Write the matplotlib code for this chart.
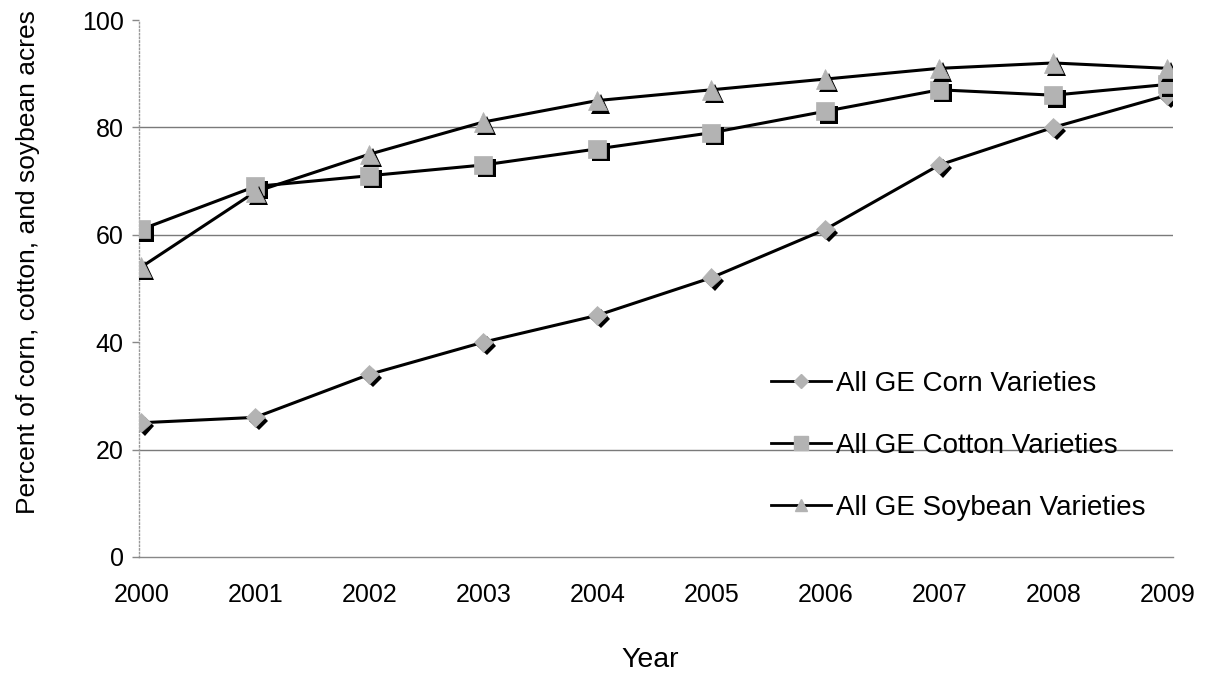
import matplotlib
matplotlib.use('Agg')
import matplotlib.pyplot as plt
import matplotlib.patheffects as pe
from matplotlib.lines import Line2D

plt.rcParams['font.family'] = ['Liberation Sans', 'DejaVu Sans']

# 数据
years = [2000, 2001, 2002, 2003, 2004, 2005, 2006, 2007, 2008, 2009]
corn = [25, 26, 34, 40, 45, 52, 61, 73, 80, 86]
cotton = [61, 69, 71, 73, 76, 79, 83, 87, 86, 88]
soybean = [54, 68, 75, 81, 85, 87, 89, 91, 92, 91]
series_labels = ['All GE Corn Varieties', 'All GE Cotton Varieties',
                 'All GE Soybean Varieties']
y_ticks = [0, 20, 40, 60, 80, 100]

W, H = 1208, 677
fig = plt.figure(figsize=(W / 100, H / 100), dpi=100)
ax = fig.add_axes([139 / W, 1 - 557 / H, (1173 - 139) / W, (557 - 20) / H])

gray = '#b3b3b3'
shadow = [pe.SimplePatchShadow(offset=(2.5, -2.5), shadow_rgbFace='black', alpha=1.0),
          pe.Normal()]

# 网格线（扫描图中只见 20/60/80）
for level in (20, 60, 80):
    ax.axhline(level, color='#7a7a7a', lw=1.0, zorder=1)

styles = [(corn, 'D', 9.5, 7), (cotton, 's', 13, 10), (soybean, '^', 14, 9)]
handles = []
for (vals, mk, ms, ms_leg), label in zip(styles, series_labels):
    ax.plot(years, vals, color='black', lw=2.2, zorder=3)
    ax.plot(years, vals, ls='none', marker=mk, ms=ms, mfc=gray, mec=gray,
            mew=0.5, zorder=4, path_effects=shadow)
    handles.append(Line2D([], [], color='black', lw=2.0, marker=mk, ms=ms_leg,
                          mfc=gray, mec=gray, label=label))

ax.set_xlim(1999.98, 2009.05)
ax.set_ylim(0, 100)
ax.set_xticks(years)
ax.set_xticklabels([str(y) for y in years])
ax.set_yticks(y_ticks)

ax.tick_params(axis='x', length=0, pad=19, labelsize=18)
ax.tick_params(axis='y', length=5, width=1, color='#888888', pad=6, labelsize=18)

for side in ('top', 'right'):
    ax.spines[side].set_visible(False)
ax.spines['left'].set_color('#999999')
ax.spines['left'].set_linestyle(':')
ax.spines['left'].set_linewidth(1.0)
ax.spines['bottom'].set_color('#888888')
ax.spines['bottom'].set_linewidth(1.0)

fig.text(28 / W, 1 - 262 / H, 'Percent of corn, cotton, and soybean acres',
         rotation=90, ha='center', va='center', fontsize=19)
fig.text(650 / W, 1 - 660 / H, 'Year', ha='center', va='center', fontsize=20.5)

fig.legend(handles=handles, loc='upper left',
           bbox_to_anchor=(771 / W, 1 - 371 / H), frameon=False,
           fontsize=20, handlelength=2.15, handletextpad=0.2,
           labelspacing=1.3, borderpad=0, borderaxespad=0)

fig.savefig('out.png', dpi=100)
